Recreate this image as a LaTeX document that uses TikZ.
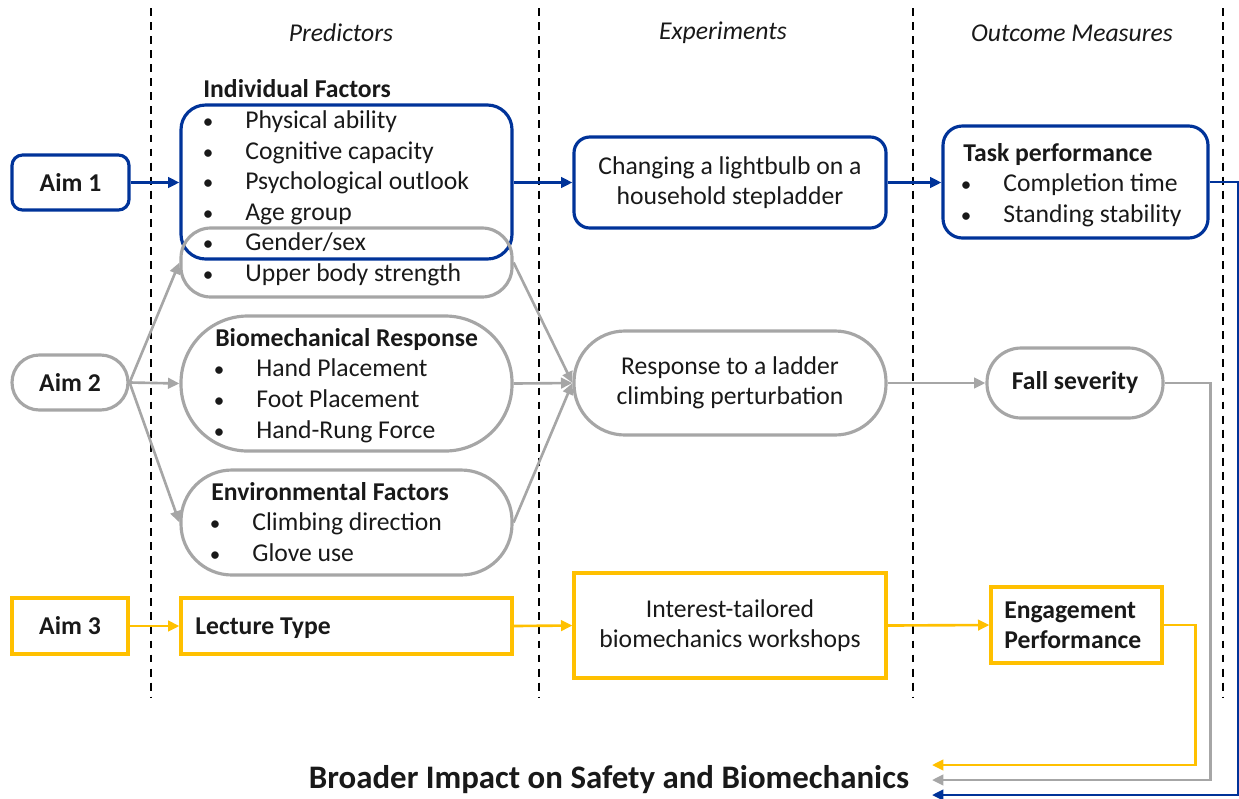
\documentclass[tikz,border=0pt]{standalone}
\usepackage{fontspec}
\setmainfont{Carlito}
\usetikzlibrary{positioning,fit,arrows.meta}

\definecolor{aimBlue}{RGB}{0,51,153}
\definecolor{aimGray}{RGB}{166,166,166}
\definecolor{aimGold}{RGB}{255,192,0}
\definecolor{inkColor}{RGB}{25,25,25}

\tikzstyle{plan} = [x = 0.02cm, y = -0.02cm]
\tikzstyle{boxBase} = [line width=1.8pt, inner sep=0pt]
\tikzstyle{blueBox} = [boxBase, draw=aimBlue, rounded corners=8pt]
\tikzstyle{grayBox} = [boxBase, draw=aimGray, rounded corners=17pt]
\tikzstyle{goldBox} = [boxBase, draw=aimGold]
\tikzstyle{bodyText} = [text=inkColor, inner sep=0pt, font=\fontsize{14.6}{17.2}\selectfont]
\tikzstyle{titleText} = [bodyText, font=\fontsize{14.6}{17.2}\selectfont\bfseries]
\tikzstyle{headText} = [bodyText, font=\fontsize{14.6}{17.2}\selectfont\itshape]
\tikzstyle{arrowBase} = [line width=1.5pt, -{Triangle[length=6.5pt, width=6pt]}]
\tikzstyle{blueArrow} = [arrowBase, color=aimBlue]
\tikzstyle{grayArrow} = [arrowBase, color=aimGray]
\tikzstyle{goldArrow} = [arrowBase, color=aimGold]
\tikzstyle{dashLine} = [black, line width=1.1pt, dash pattern=on 4.5pt off 3.5pt]

% box from corner to corner, in pixels of the plan
\newcommand{\planBox}[6]{\node [#2, fit={(#3,#4) (#5,#6)}] (#1) {};}
% one bulleted line: name, bullet x, text x, centre y, text
\newcommand{\bulletLine}[5]{
  \node [bodyText, anchor=base, font=\fontsize{12}{14}\selectfont] (#1Dot) at (#2, #4 + 8) {•};
  \node [bodyText, anchor=base west] (#1) at (#3, #4 + 8) {#5};
}
\newcommand{\boxTitle}[4]{\node [titleText, anchor=base west] (#1) at (#2, #3 + 8) {#4};}

\begin{document}
\begin{tikzpicture}[plan]
  \useasboundingbox (0,0) rectangle (1239,798);

  % column separators and headings
  \foreach \xDash in {151,539,913,1223} {
    \draw [dashLine] (\xDash,8) -- (\xDash,697);
  }
  \node [headText] (predHead) at (341,33) {Predictors};
  \node [headText] (expHead) at (723,33) {Experiments};
  \node [headText] (outHead) at (1072,33) {Outcome Measures};

  % aims
  \planBox{aimOne}{blueBox, rounded corners=6pt}{12}{155}{129}{210}
  \planBox{aimTwo}{grayBox, rounded corners=15.6pt}{12}{355}{128}{410}
  \planBox{aimThree}{goldBox}{12}{598}{128}{654}
  \node [titleText] (aimOneText) at (aimOne) {Aim 1};
  \node [titleText] (aimTwoText) at (aimTwo) {Aim 2};
  \node [titleText] (aimThreeText) at (aimThree) {Aim 3};

  % predictors
  \planBox{indFactors}{blueBox, rounded corners=14pt}{181}{105}{512}{259}
  \planBox{upperBody}{grayBox}{181}{228}{512}{297}
  \planBox{bioResp}{grayBox, rounded corners=38pt}{181}{316}{512}{451}
  \planBox{envFactors}{grayBox, rounded corners=29pt}{181}{470}{512}{575}
  \planBox{lectureType}{goldBox}{181}{598}{512}{654}

  \boxTitle{indTitle}{203}{89}{Individual Factors}
  \bulletLine{indOne}{208}{245}{120}{Physical ability}
  \bulletLine{indTwo}{208}{245}{151}{Cognitive capacity}
  \bulletLine{indThree}{208}{245}{181}{Psychological outlook}
  \bulletLine{indFour}{208}{245}{212}{Age group}
  \bulletLine{indFive}{208}{245}{242}{Gender/sex}
  \bulletLine{indSix}{208}{245}{273}{Upper body strength}

  \boxTitle{bioTitle}{215}{338}{Biomechanical Response}
  \bulletLine{bioOne}{219}{256}{368}{Hand Placement}
  \bulletLine{bioTwo}{219}{256}{399}{Foot Placement}
  \bulletLine{bioThree}{219}{256}{430}{Hand-Rung Force}

  \boxTitle{envTitle}{211}{492}{Environmental Factors}
  \bulletLine{envOne}{215}{252}{522}{Climbing direction}
  \bulletLine{envTwo}{215}{252}{553}{Glove use}

  \boxTitle{lectureText}{195}{626}{Lecture Type}

  % experiments
  \planBox{changeBulb}{blueBox, rounded corners=9pt}{574}{137}{886}{228}
  \planBox{respLadder}{grayBox, rounded corners=29pt}{574}{331}{886}{435}
  \planBox{workshops}{goldBox}{574}{573}{886}{678}
  \node [bodyText, align=center] (changeText) at (changeBulb) {Changing a lightbulb on a\\household stepladder};
  \node [bodyText, align=center] (respText) at (respLadder) {Response to a ladder\\climbing perturbation};
  \node [bodyText, align=center] (workText) at (workshops) {Interest-tailored\\biomechanics workshops};

  % outcome measures
  \planBox{taskPerf}{blueBox, rounded corners=11pt}{943}{126}{1208}{238}
  \planBox{fallSev}{grayBox, rounded corners=19.5pt}{987}{348}{1163}{418}
  \planBox{engPerf}{goldBox}{991}{587}{1162}{663}
  \boxTitle{taskTitle}{963}{153}{Task performance}
  \bulletLine{taskOne}{966}{1003}{183}{Completion time}
  \bulletLine{taskTwo}{966}{1003}{214}{Standing stability}
  \node [titleText] (fallText) at (fallSev) {Fall severity};
  \boxTitle{engOne}{1004}{610}{Engagement}
  \boxTitle{engTwo}{1004}{640}{Performance}

  % broader impact
  \node [bodyText, font=\fontsize{18.7}{22}\selectfont\bfseries] (broader) at (609,780) {Broader Impact on Safety and Biomechanics};
  \coordinate (goldEnd) at (932,765);
  \coordinate (grayEnd) at (932,780);
  \coordinate (blueEnd) at (932,795);

  % blue path
  \draw [blueArrow] (aimOne.east) -- (aimOne.east -| indFactors.west);
  \draw [blueArrow] (indFactors.east |- changeBulb) -- (changeBulb.west);
  \draw [blueArrow] (changeBulb.east) -- (changeBulb.east -| taskPerf.west);
  \draw [blueArrow] (taskPerf.east) -- ++(29,0) |- (blueEnd);

  % gray path
  \draw [grayArrow] (aimTwo.east) -- (upperBody.west);
  \draw [grayArrow] (aimTwo.east) -- (bioResp.west);
  \draw [grayArrow] (aimTwo.east) -- (envFactors.west);
  \draw [grayArrow] (upperBody.east) -- (respLadder.west);
  \draw [grayArrow] (bioResp.east) -- (respLadder.west);
  \draw [grayArrow] (envFactors.east) -- (respLadder.west);
  \draw [grayArrow] (respLadder.east) -- (fallSev.west);
  \draw [grayArrow] (fallSev.east) -- ++(46,0) |- (grayEnd);

  % gold path
  \draw [goldArrow] (aimThree.east) -- (lectureType.west);
  \draw [goldArrow] (lectureType.east) -- (workshops.west);
  \draw [goldArrow] (workshops.east) -- (engPerf.west);
  \draw [goldArrow] (engPerf.east) -- ++(32,0) |- (goldEnd);
\end{tikzpicture}
\end{document}
